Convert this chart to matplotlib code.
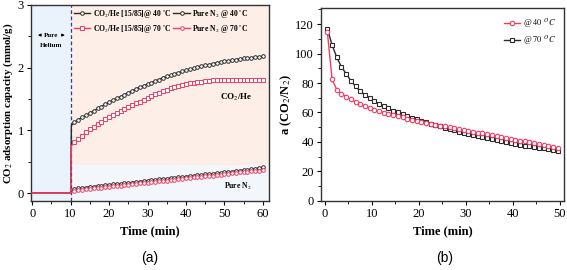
import numpy as np
import matplotlib
matplotlib.use("Agg")
import matplotlib.pyplot as plt
from matplotlib.ticker import MultipleLocator

plt.rcParams['font.family'] = ['Liberation Serif', 'DejaVu Serif']
plt.rcParams['mathtext.fontset'] = 'stix'

# ---- (a) data ----
t_a = [0, 10, 10.2] + list(range(11, 61))
co2_40 = [0, 0, 1.08,
          1.13, 1.17, 1.21, 1.24, 1.28, 1.31, 1.35, 1.38, 1.42, 1.45,
          1.48, 1.51, 1.54, 1.57, 1.60, 1.63, 1.66, 1.69, 1.71, 1.74,
          1.76, 1.79, 1.81, 1.84, 1.86, 1.88, 1.90, 1.92, 1.94, 1.96,
          1.98, 1.99, 2.01, 2.02, 2.04, 2.05, 2.06, 2.08, 2.09, 2.10,
          2.11, 2.12, 2.13, 2.14, 2.15, 2.15, 2.16, 2.17, 2.17, 2.18]
co2_70 = [0, 0, 0.75,
          0.82, 0.86, 0.91, 0.97, 1.02, 1.06, 1.10, 1.14, 1.18, 1.21,
          1.25, 1.28, 1.31, 1.34, 1.37, 1.40, 1.43, 1.46, 1.49, 1.52,
          1.55, 1.58, 1.60, 1.63, 1.65, 1.67, 1.69, 1.71, 1.72, 1.74,
          1.75, 1.76, 1.77, 1.78, 1.79, 1.79, 1.80, 1.80, 1.81, 1.81,
          1.81, 1.81, 1.81, 1.81, 1.81, 1.81, 1.81, 1.81, 1.81, 1.81]
n2_40 = [0, 0, 0.03,
         0.06, 0.075, 0.085, 0.09, 0.10, 0.105, 0.11, 0.12, 0.125, 0.13,
         0.14, 0.145, 0.15, 0.16, 0.165, 0.17, 0.18, 0.185, 0.19, 0.20,
         0.205, 0.21, 0.22, 0.225, 0.23, 0.24, 0.245, 0.25, 0.26, 0.265,
         0.27, 0.28, 0.285, 0.29, 0.30, 0.305, 0.31, 0.32, 0.325, 0.33,
         0.34, 0.345, 0.35, 0.36, 0.365, 0.37, 0.38, 0.39, 0.40, 0.41]
n2_70 = [0, 0, 0.01,
         0.035, 0.045, 0.055, 0.06, 0.07, 0.075, 0.08, 0.09, 0.095, 0.10,
         0.11, 0.115, 0.12, 0.13, 0.135, 0.14, 0.15, 0.155, 0.16, 0.17,
         0.175, 0.18, 0.19, 0.195, 0.20, 0.21, 0.215, 0.22, 0.23, 0.235,
         0.24, 0.25, 0.255, 0.26, 0.27, 0.275, 0.28, 0.29, 0.295, 0.30,
         0.31, 0.315, 0.32, 0.33, 0.335, 0.34, 0.35, 0.355, 0.36, 0.37]

# ---- (b) data ----
t_b = [i + 0.5 for i in range(50)]
sel_40 = [115, 82.7, 75.5, 72.7, 70.7, 68.9, 67.2, 65.7, 64.3, 63.0,
          61.8, 60.8, 59.9, 59.0, 58.2, 57.4, 56.6, 55.8, 55.0, 54.3,
          53.6, 52.9, 52.3, 51.7, 51.1, 50.5, 49.9, 49.3, 48.7, 48.1,
          47.5, 46.9, 46.3, 45.7, 45.1, 44.5, 43.9, 43.3, 42.7, 42.1,
          41.5, 40.9, 40.3, 39.7, 39.1, 38.5, 37.9, 37.3, 36.7, 36.1]
sel_70 = [117, 106, 97.5, 91, 86.3, 81.6, 77.7, 74.5, 72.0, 69.7,
          67.7, 65.9, 64.2, 62.7, 61.3, 60.0, 58.8, 57.6, 56.5, 55.4,
          54.4, 53.4, 52.4, 51.4, 50.5, 49.6, 48.7, 47.8, 47.0, 46.2,
          45.4, 44.6, 43.8, 43.1, 42.4, 41.7, 41.0, 40.4, 39.8, 39.2,
          38.6, 38.0, 37.5, 37.0, 36.5, 36.0, 35.5, 35.0, 34.5, 34.0]

blk = '#2b2b2b'
red = '#f03c62'

fig = plt.figure(figsize=(5.67, 2.70), dpi=100)
ax1 = fig.add_axes([0.0547, 0.2567, 0.4197, 0.7248])
ax2 = fig.add_axes([0.5661, 0.2567, 0.4286, 0.7137])

# background shading
ax1.axvspan(-1, 10, color='#eaf2fb', zorder=0, lw=0)
ax1.fill_between([10, 62], 0.45, 3.1, color='#fdeee8', zorder=0, lw=0)
ax1.fill_between([10, 62], -0.2, 0.45, color='#f3f7fc', zorder=0, lw=0)
ax1.axvline(10, color='#2b3f8f', ls=(0, (3, 2)), lw=0.9, zorder=1)

mk = dict(markersize=2.6, markerfacecolor='white', markeredgewidth=0.7,
          markevery=slice(3, None), lw=1.0)
ax1.plot(t_a, co2_40, '-o', color=blk, label='CO$_2$/He [15/85]@ 40 $^{\\circ}$C', zorder=3, **mk)
ax1.plot(t_a, n2_40, '-o', color=blk, label='Pure N$_2$ @ 40 $^{\\circ}$C', zorder=3, **mk)
ax1.plot(t_a, co2_70, '-s', color=red, label='CO$_2$/He [15/85]@ 70 $^{\\circ}$C', zorder=4, **mk)
ax1.plot(t_a, n2_70, '-o', color=red, label='Pure N$_2$ @ 70 $^{\\circ}$C', zorder=4, **mk)

h, l = ax1.get_legend_handles_labels()
order = [0, 2, 1, 3]
ax1.legend([h[i] for i in order], [l[i] for i in order], ncol=2, loc='upper left',
           bbox_to_anchor=(0.15, 1.02), frameon=False,
           prop={'size': 5.5, 'weight': 'bold'}, handlelength=2.2,
           columnspacing=0.3, handletextpad=0.3, labelspacing=0.35)

ax1.text(5, 2.52, 'Pure', ha='center', va='center', fontsize=5, fontweight='bold')
ax1.text(5, 2.36, 'Helium', ha='center', va='center', fontsize=5, fontweight='bold')
ax1.annotate('', xy=(0.8, 2.52), xytext=(3.0, 2.52),
             arrowprops=dict(arrowstyle='-|>', lw=0.6, color='black', mutation_scale=4))
ax1.annotate('', xy=(9.2, 2.52), xytext=(7.0, 2.52),
             arrowprops=dict(arrowstyle='-|>', lw=0.6, color='black', mutation_scale=4))
ax1.text(53, 1.52, 'CO$_2$/He', ha='center', va='center', fontsize=6.5, fontweight='bold')
ax1.text(53.5, 0.11, 'Pure N$_2$', ha='center', va='center', fontsize=5.5, fontweight='bold')

ax1.set_xlim(-0.3, 61.6)
ax1.set_ylim(-0.12, 3)
ax1.xaxis.set_major_locator(MultipleLocator(10))
ax1.xaxis.set_minor_locator(MultipleLocator(5))
ax1.yaxis.set_major_locator(MultipleLocator(1))
ax1.yaxis.set_minor_locator(MultipleLocator(0.5))
ax1.set_xlabel('Time (min)', fontsize=9, fontweight='bold', labelpad=4)
ax1.set_ylabel('CO$_2$ adsorption capacity (mmol/g)', fontsize=7.8, fontweight='bold', labelpad=2)

# ---- (b) ----
ax2.plot(t_b, sel_40, '-o', color=red, lw=1.0, markersize=3.2, markerfacecolor='white',
         markeredgewidth=0.8, label='@ $\\it{40}$ $^{\\it{O}}\\it{C}$', zorder=3)
ax2.plot(t_b, sel_70, '-s', color=blk, lw=1.0, markersize=3.2, markerfacecolor='white',
         markeredgewidth=0.8, label='@ $\\it{70}$ $^{\\it{O}}\\it{C}$', zorder=2)
ax2.legend(loc='upper right', frameon=False, prop={'size': 6, 'style': 'italic'},
           handlelength=2.0, handletextpad=0.3, borderaxespad=0.6)
ax2.set_xlim(-0.85, 50.85)
ax2.set_ylim(0, 131)
ax2.xaxis.set_major_locator(MultipleLocator(10))
ax2.xaxis.set_minor_locator(MultipleLocator(5))
ax2.yaxis.set_major_locator(MultipleLocator(20))
ax2.yaxis.set_minor_locator(MultipleLocator(10))
ax2.set_xlabel('Time (min)', fontsize=9, fontweight='bold', labelpad=4)
ax2.set_ylabel('a (CO$_2$/N$_2$)', fontsize=9, fontweight='bold', labelpad=1)

for ax in (ax1, ax2):
    ax.tick_params(which='major', direction='out', length=3, width=0.8, labelsize=9, pad=2)
    ax.tick_params(which='minor', direction='out', length=2, width=0.6)
    for s in ax.spines.values():
        s.set_linewidth(1.0)
        s.set_color('#333333')

fig.text(0.2645, 0.045, '(a)', ha='center', va='center', fontsize=10, family='Liberation Sans')
fig.text(0.785, 0.045, '(b)', ha='center', va='center', fontsize=10, family='Liberation Sans')

fig.savefig('out.png', dpi=100)
